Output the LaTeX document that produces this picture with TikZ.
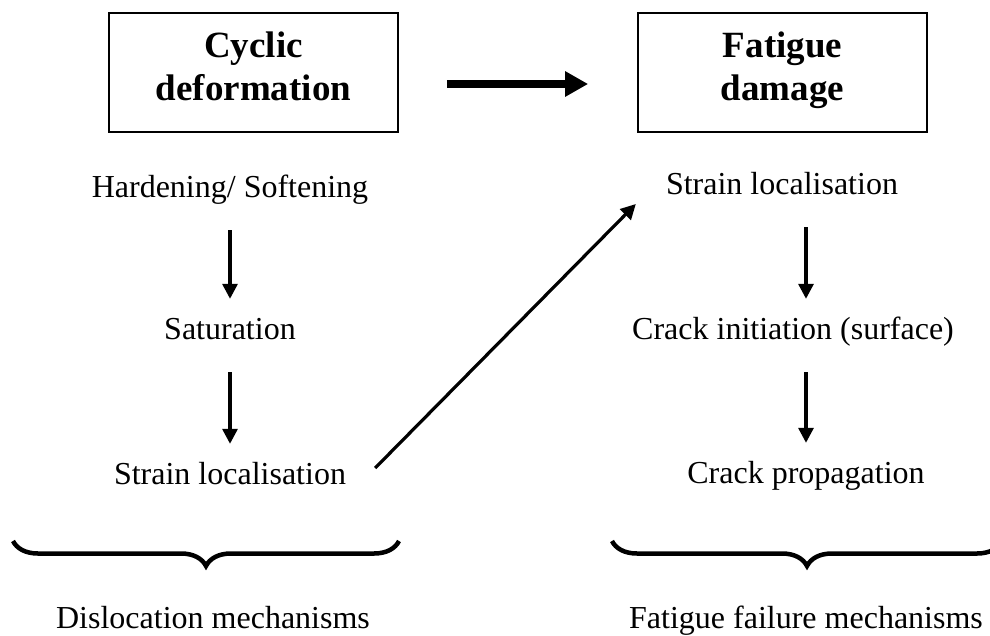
\documentclass[tikz,border=0pt]{standalone}
\usepackage{fontspec}
\setmainfont{Liberation Serif}
\usetikzlibrary{arrows.meta,decorations.pathreplacing}

\begin{document}
\begin{tikzpicture}[x=1pt,y=-1pt,
  txt/.style={anchor=base,inner sep=0pt,text height=22pt,text depth=7pt,font=\fontsize{32}{38}\selectfont},
  box/.style={draw,line width=1.7pt,minimum width=289pt,minimum height=119pt,inner sep=0pt,align=center,text depth=13pt,font=\fontsize{37}{43}\selectfont\bfseries},
  arr/.style={line width=3.2pt,-{Triangle[length=15pt,width=15pt]},shorten <=26pt,shorten >=18pt},
  brc/.style={line width=4.5pt,decorate,decoration={brace,mirror,amplitude=25pt}}]
\path[use as bounding box,clip] (0,0) rectangle (990,635);

% the two boxes
\node[box] (cyclic) at (253.5,72.5){Cyclic\\deformation};
\node[box] (fatigue) at (782.5,72.5){Fatigue\\damage};
\draw[line width=8pt,-{Triangle[length=23pt,width=24pt]}] ([shift={(48,11.5)}]cyclic.east) -- ([shift={(-49,11.5)}]fatigue.west);

% left column
\node[txt] (harden) at (230,197){Hardening/ Softening};
\node[txt] (satur) at (230,339){Saturation};
\node[txt] (strainL) at (230,484){Strain localisation};
\node[txt] (dislo) at (213,628){Dislocation mechanisms};

% right column
\node[txt] (strainR) at (782,194){Strain localisation};
\node[txt] (crackI) at (793,339){Crack initiation (surface)};
\node[txt] (crackP) at (806,483){Crack propagation};
\node[txt] (failure) at (806,628){Fatigue failure mechanisms};

\draw[arr] (harden) -- (satur);
\draw[arr] (satur) -- (strainL);
\draw[arr] (strainR.south -| crackP) -- (crackI.north -| crackP);
\draw[arr] (crackI.south -| crackP) -- (crackP.north);
\draw[arr,shorten <=0pt,shorten >=0pt] ([shift={(29,-8.5)}]strainL.east) -- ([shift={(-30,17.5)}]strainR.west);

% braces
\coordinate (lb1) at (13,541);
\coordinate (lb2) at (399,541);
\coordinate (rb1) at (612,541);
\coordinate (rb2) at (1002,541);
\draw[brc] (lb1) -- (lb2);
\draw[brc] (rb1) -- (rb2);
\end{tikzpicture}
\end{document}
